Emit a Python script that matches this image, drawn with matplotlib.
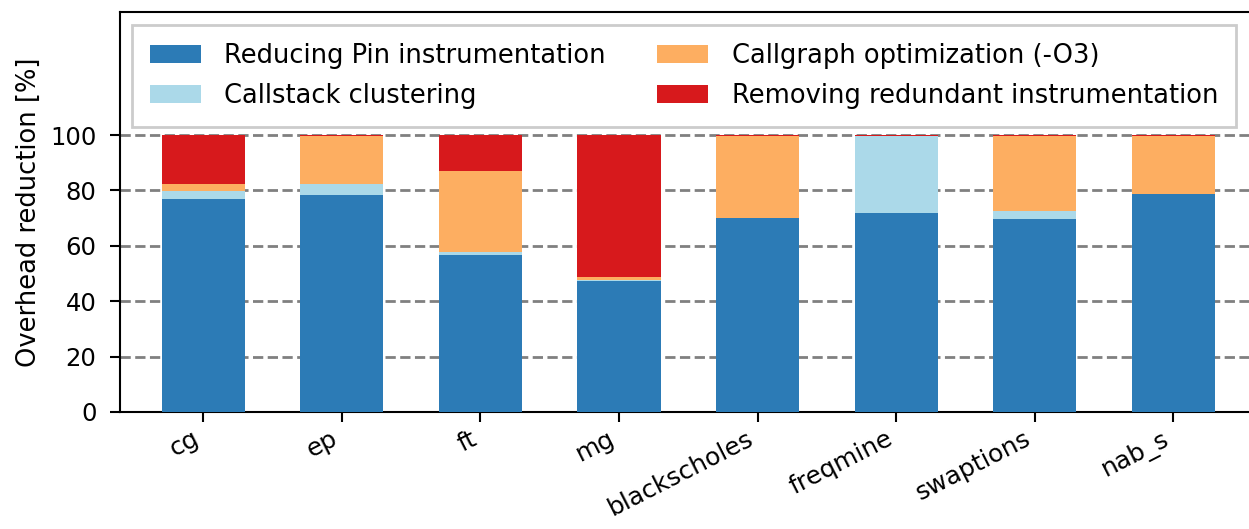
import matplotlib.pyplot as plt
import numpy as np

# benchmarks and stacked contributions (%)
benchmarks = ['cg', 'ep', 'ft', 'mg', 'blackscholes', 'freqmine', 'swaptions', 'nab_s']
pin_reduction = [77.0, 78.3, 56.7, 47.3, 70.0, 72.0, 69.8, 78.7]
callstack_clustering = [2.8, 4.0, 1.1, 0.4, 0.0, 27.5, 2.6, 0.0]
callgraph_opt = [2.5, 17.2, 29.2, 1.0, 29.6, 0.0, 27.1, 20.9]
redundant_removal = [17.7, 0.5, 13.0, 51.3, 0.4, 0.5, 0.5, 0.4]

labels = ['Reducing Pin instrumentation', 'Callstack clustering',
          'Callgraph optimization (-O3)', 'Removing redundant instrumentation']
colors = ['#2c7bb6', '#abd9e9', '#fdae61', '#d7191c']

fig = plt.figure(figsize=(12.49, 5.29), dpi=100)
ax = fig.add_axes([0.0961, 0.2212, 0.910, 0.756])

x = np.arange(len(benchmarks))
series = [pin_reduction, callstack_clustering, callgraph_opt, redundant_removal]
bottom = np.zeros(len(benchmarks))
for vals, lab, col in zip(series, labels, colors):
    ax.bar(x, vals, 0.6, bottom=bottom, label=lab, color=col, zorder=3)
    bottom += np.array(vals)

ax.set_xlim(-0.6, 7.6)
ax.set_ylim(0, 144.4)
ax.set_yticks([0, 20, 40, 60, 80, 100])
ax.set_xticks(x)
ax.set_xticklabels(benchmarks, rotation=27, ha='right', fontsize=18)
ax.tick_params(axis='y', labelsize=17.5, pad=10)
ax.tick_params(length=7, width=1.5)
ax.set_ylabel('Overhead reduction [%]', fontsize=18.5, labelpad=6)
ax.yaxis.grid(True, linestyle='--', color='gray', linewidth=2, zorder=0)
ax.set_axisbelow(True)
for s in ax.spines.values():
    s.set_linewidth(1.5)

leg = ax.legend(ncol=2, loc='upper center', bbox_to_anchor=(0.496, 0.9675),
                borderaxespad=0, fontsize=18.5, fancybox=False, framealpha=1,
                edgecolor='#cccccc', columnspacing=2.0, borderpad=0.7,
                labelspacing=0.55, handletextpad=0.9)
leg.get_frame().set_linewidth(2)

plt.savefig('out.png', dpi=100)
